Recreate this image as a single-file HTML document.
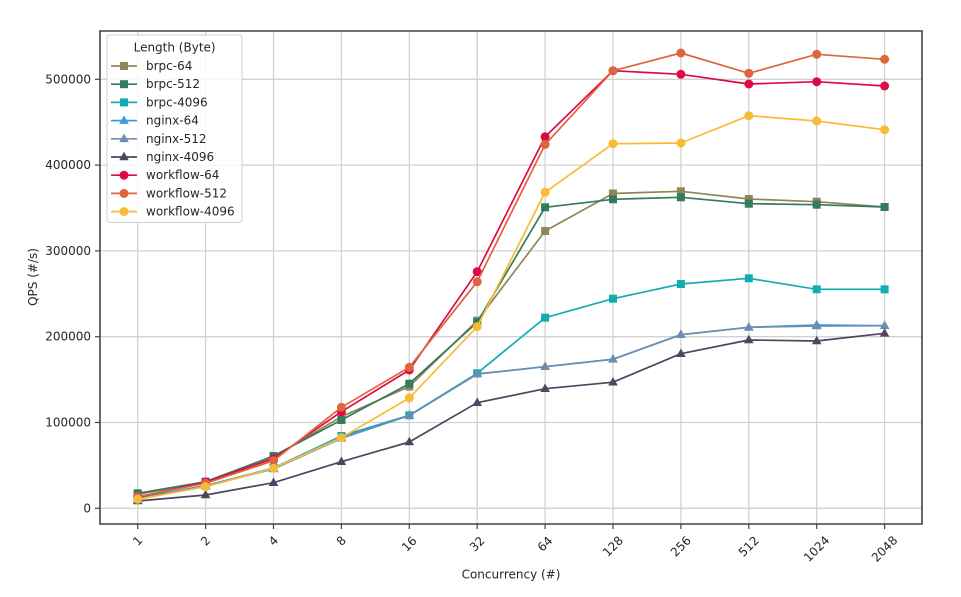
<!DOCTYPE html>
<html><head><meta charset="utf-8"><style>
html,body{margin:0;padding:0;background:#fff;}
svg{display:block;font-family:"DejaVu Sans","Liberation Sans",sans-serif;}
</style></head><body>
<svg width="961" height="597" viewBox="0 0 961 597" xmlns="http://www.w3.org/2000/svg">
<defs>
<marker id="m1" markerWidth="10" markerHeight="10" refX="5" refY="5" markerUnits="userSpaceOnUse"><rect x="1" y="1" width="8" height="8" fill="#8f8659"/></marker>
<marker id="m2" markerWidth="10" markerHeight="10" refX="5" refY="5" markerUnits="userSpaceOnUse"><rect x="1" y="1" width="8" height="8" fill="#347a5d"/></marker>
<marker id="m3" markerWidth="10" markerHeight="10" refX="5" refY="5" markerUnits="userSpaceOnUse"><rect x="1" y="1" width="8" height="8" fill="#12adb3"/></marker>
<marker id="m4" markerWidth="11" markerHeight="11" refX="5.5" refY="6" markerUnits="userSpaceOnUse"><polygon points="5.5,0.8 10.3,9.3 0.7,9.3" fill="#3b9ed8"/></marker>
<marker id="m5" markerWidth="11" markerHeight="11" refX="5.5" refY="6" markerUnits="userSpaceOnUse"><polygon points="5.5,0.8 10.3,9.3 0.7,9.3" fill="#6a8db0"/></marker>
<marker id="m6" markerWidth="11" markerHeight="11" refX="5.5" refY="6" markerUnits="userSpaceOnUse"><polygon points="5.5,0.8 10.3,9.3 0.7,9.3" fill="#4e4560"/></marker>
<marker id="m7" markerWidth="10" markerHeight="10" refX="5" refY="5" markerUnits="userSpaceOnUse"><circle cx="5" cy="5" r="4.5" fill="#df0a45"/></marker>
<marker id="m8" markerWidth="10" markerHeight="10" refX="5" refY="5" markerUnits="userSpaceOnUse"><circle cx="5" cy="5" r="4.5" fill="#de6540"/></marker>
<marker id="m9" markerWidth="10" markerHeight="10" refX="5" refY="5" markerUnits="userSpaceOnUse"><circle cx="5" cy="5" r="4.5" fill="#f9bb35"/></marker>
</defs>

<!-- grid -->
<g stroke="#d2d2d2" stroke-width="1.3">
<line x1="137.7" y1="31" x2="137.7" y2="524"/>
<line x1="205.6" y1="31" x2="205.6" y2="524"/>
<line x1="273.5" y1="31" x2="273.5" y2="524"/>
<line x1="341.4" y1="31" x2="341.4" y2="524"/>
<line x1="409.3" y1="31" x2="409.3" y2="524"/>
<line x1="477.2" y1="31" x2="477.2" y2="524"/>
<line x1="545.1" y1="31" x2="545.1" y2="524"/>
<line x1="613.0" y1="31" x2="613.0" y2="524"/>
<line x1="680.9" y1="31" x2="680.9" y2="524"/>
<line x1="748.8" y1="31" x2="748.8" y2="524"/>
<line x1="816.7" y1="31" x2="816.7" y2="524"/>
<line x1="884.6" y1="31" x2="884.6" y2="524"/>
<line x1="100" y1="508.3" x2="922" y2="508.3"/>
<line x1="100" y1="422.5" x2="922" y2="422.5"/>
<line x1="100" y1="336.7" x2="922" y2="336.7"/>
<line x1="100" y1="250.9" x2="922" y2="250.9"/>
<line x1="100" y1="165.1" x2="922" y2="165.1"/>
<line x1="100" y1="79.3" x2="922" y2="79.3"/>
</g>

<!-- series -->
<g fill="none" stroke-width="1.7" stroke-linejoin="round">
<polyline stroke="#8f8659" marker-start="url(#m1)" marker-mid="url(#m1)" marker-end="url(#m1)" points="137.7,494.3 205.6,482.5 273.5,457 341.4,416.7 409.3,386.5 477.2,320.7 545.1,231 613.0,193.5 680.9,191.3 748.8,199 816.7,201.7 884.6,207"/>
<polyline stroke="#347a5d" marker-start="url(#m2)" marker-mid="url(#m2)" marker-end="url(#m2)" points="137.7,493.3 205.6,481.7 273.5,456 341.4,420 409.3,383.7 477.2,322.3 545.1,207.3 613.0,199.3 680.9,197.3 748.8,203.7 816.7,204.7 884.6,207"/>
<polyline stroke="#12adb3" marker-start="url(#m3)" marker-mid="url(#m3)" marker-end="url(#m3)" points="137.7,498 205.6,485.7 273.5,468 341.4,436 409.3,415.3 477.2,373.3 545.1,317.7 613.0,298.7 680.9,284 748.8,278.3 816.7,289.3 884.6,289.3"/>
<polyline stroke="#3b9ed8" marker-start="url(#m4)" marker-mid="url(#m4)" marker-end="url(#m4)" points="137.7,499 205.6,486 273.5,468.5 341.4,438 409.3,415.5 477.2,374 545.1,366.7 613.0,359.2 680.9,334.7 748.8,327.3 816.7,325 884.6,325.7"/>
<polyline stroke="#6a8db0" marker-start="url(#m5)" marker-mid="url(#m5)" marker-end="url(#m5)" points="137.7,499 205.6,486 273.5,469 341.4,438.3 409.3,415.5 477.2,374 545.1,366.7 613.0,359.3 680.9,334.7 748.8,327.3 816.7,326 884.6,325.7"/>
<polyline stroke="#4e4560" marker-start="url(#m6)" marker-mid="url(#m6)" marker-end="url(#m6)" points="137.7,501 205.6,495 273.5,482.7 341.4,461.7 409.3,442 477.2,402.7 545.1,388.7 613.0,382.2 680.9,353.7 748.8,340 816.7,341 884.6,333.3"/>
<polyline stroke="#df0a45" marker-start="url(#m7)" marker-mid="url(#m7)" marker-end="url(#m7)" points="137.7,497.3 205.6,482 273.5,458.7 341.4,411.7 409.3,370 477.2,271.7 545.1,136.8 613.0,70.7 680.9,74.3 748.8,84 816.7,81.7 884.6,86"/>
<polyline stroke="#de6540" marker-start="url(#m8)" marker-mid="url(#m8)" marker-end="url(#m8)" points="137.7,496.7 205.6,483.3 273.5,460.7 341.4,407.3 409.3,367.3 477.2,281.7 545.1,144.5 613.0,70.7 680.9,53 748.8,73.3 816.7,54.3 884.6,59.3"/>
<polyline stroke="#f9bb35" marker-start="url(#m9)" marker-mid="url(#m9)" marker-end="url(#m9)" points="137.7,499.3 205.6,486.7 273.5,468.3 341.4,437.7 409.3,398 477.2,326.7 545.1,192.3 613.0,143.7 680.9,143 748.8,115.7 816.7,121 884.6,129.7"/>
</g>

<!-- spines -->
<line x1="99.2" y1="31" x2="922.8" y2="31" stroke="#444" stroke-width="1.6"/>
<line x1="922" y1="31" x2="922" y2="524" stroke="#444" stroke-width="1.6"/>
<line x1="100" y1="31" x2="100" y2="524.5" stroke="#444" stroke-width="1.6"/>
<line x1="99.2" y1="524" x2="922.8" y2="524" stroke="#444" stroke-width="1.6"/>

<!-- ticks -->
<g stroke="#444" stroke-width="1.2">
<line x1="137.7" y1="524" x2="137.7" y2="529"/>
<line x1="205.6" y1="524" x2="205.6" y2="529"/>
<line x1="273.5" y1="524" x2="273.5" y2="529"/>
<line x1="341.4" y1="524" x2="341.4" y2="529"/>
<line x1="409.3" y1="524" x2="409.3" y2="529"/>
<line x1="477.2" y1="524" x2="477.2" y2="529"/>
<line x1="545.1" y1="524" x2="545.1" y2="529"/>
<line x1="613.0" y1="524" x2="613.0" y2="529"/>
<line x1="680.9" y1="524" x2="680.9" y2="529"/>
<line x1="748.8" y1="524" x2="748.8" y2="529"/>
<line x1="816.7" y1="524" x2="816.7" y2="529"/>
<line x1="884.6" y1="524" x2="884.6" y2="529"/>
<line x1="95" y1="508.3" x2="100" y2="508.3"/>
<line x1="95" y1="422.5" x2="100" y2="422.5"/>
<line x1="95" y1="336.7" x2="100" y2="336.7"/>
<line x1="95" y1="250.9" x2="100" y2="250.9"/>
<line x1="95" y1="165.1" x2="100" y2="165.1"/>
<line x1="95" y1="79.3" x2="100" y2="79.3"/>
</g>

<!-- y tick labels -->
<g font-size="12" fill="#262626" text-anchor="end" dominant-baseline="central">
<text x="91" y="508.3">0</text>
<text x="91" y="422.5">100000</text>
<text x="91" y="336.7">200000</text>
<text x="91" y="250.9">300000</text>
<text x="91" y="165.1">400000</text>
<text x="91" y="79.3">500000</text>
</g>

<!-- x tick labels -->
<g font-size="12" fill="#262626" text-anchor="middle" dominant-baseline="central">
<text transform="translate(137.7,541) rotate(-45)">1</text>
<text transform="translate(205.6,541) rotate(-45)">2</text>
<text transform="translate(273.5,541) rotate(-45)">4</text>
<text transform="translate(341.4,541) rotate(-45)">8</text>
<text transform="translate(409.3,544) rotate(-45)">16</text>
<text transform="translate(477.2,544) rotate(-45)">32</text>
<text transform="translate(545.1,544) rotate(-45)">64</text>
<text transform="translate(613.0,546.5) rotate(-45)">128</text>
<text transform="translate(680.9,546.5) rotate(-45)">256</text>
<text transform="translate(748.8,546.5) rotate(-45)">512</text>
<text transform="translate(816.7,549) rotate(-45)">1024</text>
<text transform="translate(884.6,549) rotate(-45)">2048</text>
</g>

<!-- axis labels -->
<text x="511" y="574.5" font-size="12" fill="#262626" text-anchor="middle" dominant-baseline="central">Concurrency (#)</text>
<text transform="translate(33,277) rotate(-90)" font-size="12" fill="#262626" text-anchor="middle" dominant-baseline="central">QPS (#/s)</text>

<!-- legend -->
<rect x="107" y="35" width="135" height="187.5" rx="3" ry="3" fill="#fff" fill-opacity="0.85" stroke="#d0d0d0" stroke-width="1"/>
<text x="174.6" y="47.7" font-size="12" fill="#262626" text-anchor="middle" dominant-baseline="central">Length (Byte)</text>
<g stroke-width="1.7">
<line x1="111" y1="66" x2="137" y2="66" stroke="#8f8659"/>
<line x1="111" y1="84.2" x2="137" y2="84.2" stroke="#347a5d"/>
<line x1="111" y1="102.4" x2="137" y2="102.4" stroke="#12adb3"/>
<line x1="111" y1="120.6" x2="137" y2="120.6" stroke="#3b9ed8"/>
<line x1="111" y1="138.8" x2="137" y2="138.8" stroke="#6a8db0"/>
<line x1="111" y1="157" x2="137" y2="157" stroke="#4e4560"/>
<line x1="111" y1="175.2" x2="137" y2="175.2" stroke="#df0a45"/>
<line x1="111" y1="193.4" x2="137" y2="193.4" stroke="#de6540"/>
<line x1="111" y1="211.6" x2="137" y2="211.6" stroke="#f9bb35"/>
</g>
<rect x="120" y="62" width="8" height="8" fill="#8f8659"/>
<rect x="120" y="80.2" width="8" height="8" fill="#347a5d"/>
<rect x="120" y="98.4" width="8" height="8" fill="#12adb3"/>
<polygon points="124,115.4 128.8,123.9 119.2,123.9" fill="#3b9ed8"/>
<polygon points="124,133.6 128.8,142.1 119.2,142.1" fill="#6a8db0"/>
<polygon points="124,151.8 128.8,160.3 119.2,160.3" fill="#4e4560"/>
<circle cx="124" cy="175.2" r="4.5" fill="#df0a45"/>
<circle cx="124" cy="193.4" r="4.5" fill="#de6540"/>
<circle cx="124" cy="211.6" r="4.5" fill="#f9bb35"/>
<g font-size="12" fill="#262626" dominant-baseline="central">
<text x="146" y="66">brpc-64</text>
<text x="146" y="84.2">brpc-512</text>
<text x="146" y="102.4">brpc-4096</text>
<text x="146" y="120.6">nginx-64</text>
<text x="146" y="138.8">nginx-512</text>
<text x="146" y="157">nginx-4096</text>
<text x="146" y="175.2">workflow-64</text>
<text x="146" y="193.4">workflow-512</text>
<text x="146" y="211.6">workflow-4096</text>
</g>
</svg>
</body></html>
